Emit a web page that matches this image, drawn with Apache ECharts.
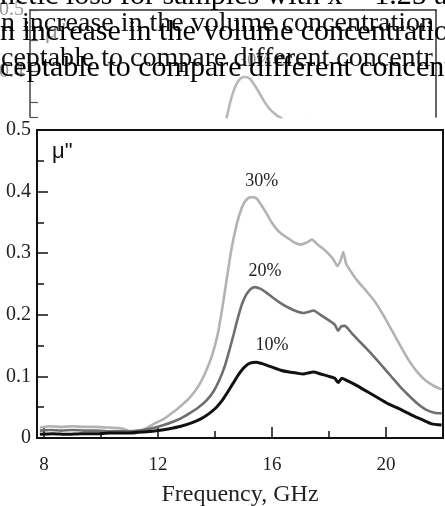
<!DOCTYPE html>
<html>
<head>
<meta charset="utf-8">
<script src="https://cdn.jsdelivr.net/npm/echarts@6/dist/echarts.min.js"></script>
<style>
html,body{margin:0;padding:0;background:#fff;}
#c{width:445px;height:506px;}
</style>
</head>
<body>
<div id="c"></div>
<script>
// ---- data ----
var freq30 = [7.85, 8.2, 8.6, 9.0, 9.4, 9.8, 10.2, 10.6, 10.9, 11.1, 11.3, 11.6, 11.9, 12.2, 12.5, 12.8, 13.1, 13.4, 13.65, 13.9, 14.1, 14.25, 14.4, 14.55, 14.7, 14.85, 15.0, 15.15, 15.3, 15.45, 15.6, 15.8, 16.0, 16.2, 16.4, 16.6, 16.8, 17.0, 17.2, 17.4, 17.6, 17.8, 18.0, 18.15, 18.3, 18.42, 18.5, 18.6, 18.8, 19.0, 19.3, 19.6, 19.9, 20.2, 20.5, 20.8, 21.1, 21.4, 21.7, 21.95];
var mu30 = [0.017, 0.019, 0.018, 0.019, 0.018, 0.018, 0.017, 0.016, 0.013, 0.007, 0.009, 0.016, 0.024, 0.031, 0.041, 0.052, 0.065, 0.083, 0.105, 0.135, 0.17, 0.21, 0.255, 0.3, 0.335, 0.362, 0.38, 0.389, 0.391, 0.389, 0.38, 0.365, 0.349, 0.337, 0.329, 0.323, 0.317, 0.314, 0.317, 0.322, 0.314, 0.307, 0.298, 0.29, 0.279, 0.29, 0.302, 0.283, 0.268, 0.255, 0.239, 0.222, 0.2, 0.175, 0.15, 0.126, 0.107, 0.093, 0.084, 0.079];

var freq20 = [7.85, 8.2, 8.6, 9.0, 9.4, 9.8, 10.2, 10.6, 11.0, 11.3, 11.6, 11.9, 12.2, 12.5, 12.8, 13.1, 13.4, 13.7, 13.95, 14.15, 14.35, 14.5, 14.65, 14.8, 14.95, 15.1, 15.25, 15.4, 15.6, 15.8, 16.0, 16.3, 16.6, 16.9, 17.1, 17.3, 17.45, 17.7, 18.0, 18.2, 18.32, 18.42, 18.55, 18.8, 19.0, 19.3, 19.6, 19.9, 20.2, 20.5, 20.8, 21.1, 21.4, 21.7, 21.95];
var mu20 = [0.012, 0.013, 0.012, 0.013, 0.012, 0.012, 0.011, 0.011, 0.011, 0.012, 0.014, 0.017, 0.021, 0.026, 0.032, 0.04, 0.049, 0.061, 0.076, 0.094, 0.118, 0.142, 0.168, 0.195, 0.218, 0.233, 0.242, 0.245, 0.242, 0.236, 0.229, 0.219, 0.211, 0.205, 0.203, 0.205, 0.207, 0.2, 0.191, 0.184, 0.174, 0.181, 0.182, 0.17, 0.16, 0.146, 0.131, 0.115, 0.099, 0.083, 0.069, 0.056, 0.046, 0.041, 0.04];

var freq10 = [7.85, 8.3, 8.8, 9.3, 9.8, 10.3, 10.8, 11.2, 11.6, 12.0, 12.4, 12.8, 13.2, 13.5, 13.8, 14.05, 14.25, 14.45, 14.65, 14.85, 15.05, 15.25, 15.45, 15.7, 16.0, 16.3, 16.6, 16.9, 17.1, 17.3, 17.45, 17.7, 18.0, 18.2, 18.32, 18.45, 18.6, 18.9, 19.2, 19.5, 19.8, 20.1, 20.4, 20.7, 21.0, 21.3, 21.6, 21.95];
var mu10 = [0.006, 0.007, 0.006, 0.007, 0.007, 0.008, 0.008, 0.009, 0.01, 0.012, 0.015, 0.019, 0.025, 0.031, 0.04, 0.05, 0.061, 0.075, 0.09, 0.105, 0.116, 0.122, 0.123, 0.12, 0.115, 0.11, 0.107, 0.105, 0.104, 0.106, 0.107, 0.104, 0.1, 0.097, 0.09, 0.097, 0.094, 0.087, 0.079, 0.071, 0.063, 0.055, 0.049, 0.042, 0.035, 0.029, 0.023, 0.021];

var seriesNames = ['30%', '20%', '10%'];
var labelAt = [[15.64, 0.416], [15.75, 0.27], [16.0, 0.151]];
var xTickLabels = [8, 12, 16, 20];
var yTickLabels = ['0', '0.1', '0.2', '0.3', '0.4', '0.5'];
var textLines = [
  'netic loss for samples with x = 1.25 an',
  'n increase in the volume concentration',
  'ceptable to compare different concentr'
];
var xName = 'Frequency, GHz';
var yName = 'μ"';

function pairs(fx, vy) { return fx.map(function (f, i) { return [f, vy[i]]; }); }

var SERIF = '"Liberation Serif", "Times New Roman", serif';
var colors = ['#b3b3b3', '#6e6e6e', '#111111'];
var widths = [2.6, 2.6, 3];
var datasets = [pairs(freq30, mu30), pairs(freq20, mu20), pairs(freq10, mu10)];

function mp(i, col) {
  return {
    symbol: 'circle', symbolSize: 0, silent: true,
    label: { show: true, position: 'inside', formatter: seriesNames[i], color: col, fontFamily: SERIF, fontSize: 18 },
    data: [{ coord: labelAt[i] }]
  };
}

var series = [];
// faded copy of the chart visible at the top of the scan
series.push({
  type: 'line', xAxisIndex: 1, yAxisIndex: 1, data: datasets[0], showSymbol: false, smooth: 0.2,
  lineStyle: { color: '#b8b8b8', width: 2.6 }, itemStyle: { color: '#b8b8b8' }, z: 1,
  markPoint: mp(0, '#9a9a9a')
});
for (var i = 0; i < 3; i++) {
  series.push({
    type: 'line', xAxisIndex: 0, yAxisIndex: 0, data: datasets[i], showSymbol: false,
    smooth: 0.2,
    lineStyle: { color: colors[i], width: widths[i] }, itemStyle: { color: colors[i] }, z: 5 + i,
    markPoint: mp(i, '#222')
  });
}

var chart = echarts.init(document.getElementById('c'), null, { renderer: 'canvas' });
chart.setOption({
  animation: false,
  backgroundColor: '#ffffff',
  grid: [
    { left: 37, top: 130, width: 406, height: 308, outerBoundsMode: 'none', containLabel: false,
      show: true, borderColor: '#111', borderWidth: 2, backgroundColor: 'transparent' },
    { left: 30, top: 10, width: 406, height: 107, outerBoundsMode: 'none', containLabel: false }
  ],
  xAxis: [
    { type: 'value', gridIndex: 0, position: 'bottom', min: 7.75, max: 22, minInterval: 4, maxInterval: 4,
      axisLine: { show: true, lineStyle: { color: '#111', width: 2 } },
      axisTick: { show: true, inside: true, length: 11, lineStyle: { color: '#111', width: 1.5 } },
      splitLine: { show: false },
      axisLabel: { color: '#222', fontFamily: SERIF, fontSize: 19, margin: 18,
        formatter: function (v) { return xTickLabels.indexOf(v) >= 0 ? String(v) : ''; } },
      name: xName, nameLocation: 'middle', nameGap: 45,
      nameTextStyle: { color: '#222', fontFamily: SERIF, fontSize: 24 } },
    { type: 'value', gridIndex: 1, position: 'top', min: 7.75, max: 22,
      axisLine: { show: true, lineStyle: { color: '#333', width: 1.5 } },
      axisTick: { show: false }, axisLabel: { show: false }, splitLine: { show: false } },
    { type: 'value', gridIndex: 0, position: 'bottom', min: 7.75, max: 22, minInterval: 2, maxInterval: 2,
      axisLine: { show: false },
      axisTick: { show: true, inside: true, length: 7, lineStyle: { color: '#111', width: 1.5 } },
      axisLabel: { show: false }, splitLine: { show: false } }
  ],
  yAxis: [
    { type: 'value', gridIndex: 0, min: 0, max: 0.5, interval: 0.1,
      axisLine: { show: true, lineStyle: { color: '#111', width: 2 } },
      axisTick: { show: true, inside: true, length: 11, lineStyle: { color: '#111', width: 1.5 } },
      minorTick: { show: true, splitNumber: 2, length: 7, lineStyle: { color: '#111', width: 1.5 } },
      splitLine: { show: false }, minorSplitLine: { show: false },
      axisLabel: { color: '#222', fontFamily: SERIF, fontSize: 20, margin: 6,
        formatter: function (v) { return yTickLabels[Math.round(v * 10)]; } } },
    { type: 'value', gridIndex: 1, min: 0.326, max: 0.5, minInterval: 0.05, maxInterval: 0.05,
      axisLine: { show: true, lineStyle: { color: '#444', width: 1.5 } },
      axisTick: { show: true, inside: true, length: 8, lineStyle: { color: '#555', width: 1.2 } },
      splitLine: { show: false },
      axisLabel: { color: '#999', fontFamily: SERIF, fontSize: 20, margin: 6,
        formatter: function (v) { var s = v.toFixed(2); return s === '0.50' ? '0.5' : (s === '0.40' ? '0.4' : ''); } } },
    { type: 'value', gridIndex: 1, position: 'right', min: 0.326, max: 0.5,
      axisLine: { show: true, lineStyle: { color: '#333', width: 1.5 } },
      axisTick: { show: false }, axisLabel: { show: false }, splitLine: { show: false } }
  ],
  series: series,
  graphic: { elements: [
    { type: 'text', x: 52, y: 141, z: 50, style: { text: yName, font: '22px "Liberation Sans", sans-serif', fill: '#111' } },
    { type: 'text', x: 45, y: 21, z: 50, style: { text: yName, font: '22px "Liberation Sans", sans-serif', fill: '#999' } },
    { type: 'text', x: 0, y: -19, z: 100, style: { text: textLines[0], font: '30px ' + SERIF, fill: '#000' } },
    { type: 'text', x: 1, y: 10, z: 100, style: { text: textLines[1], font: '28px ' + SERIF, fill: '#111' } },
    { type: 'text', x: 0, y: 17, z: 100, style: { text: textLines[1], font: '30px ' + SERIF, fill: '#000' } },
    { type: 'text', x: 1, y: 45, z: 100, style: { text: textLines[2], font: '28px ' + SERIF, fill: '#111' } },
    { type: 'text', x: 0, y: 53, z: 100, style: { text: textLines[2], font: '30px ' + SERIF, fill: '#000' } }
  ] }
});
</script>
</body>
</html>
